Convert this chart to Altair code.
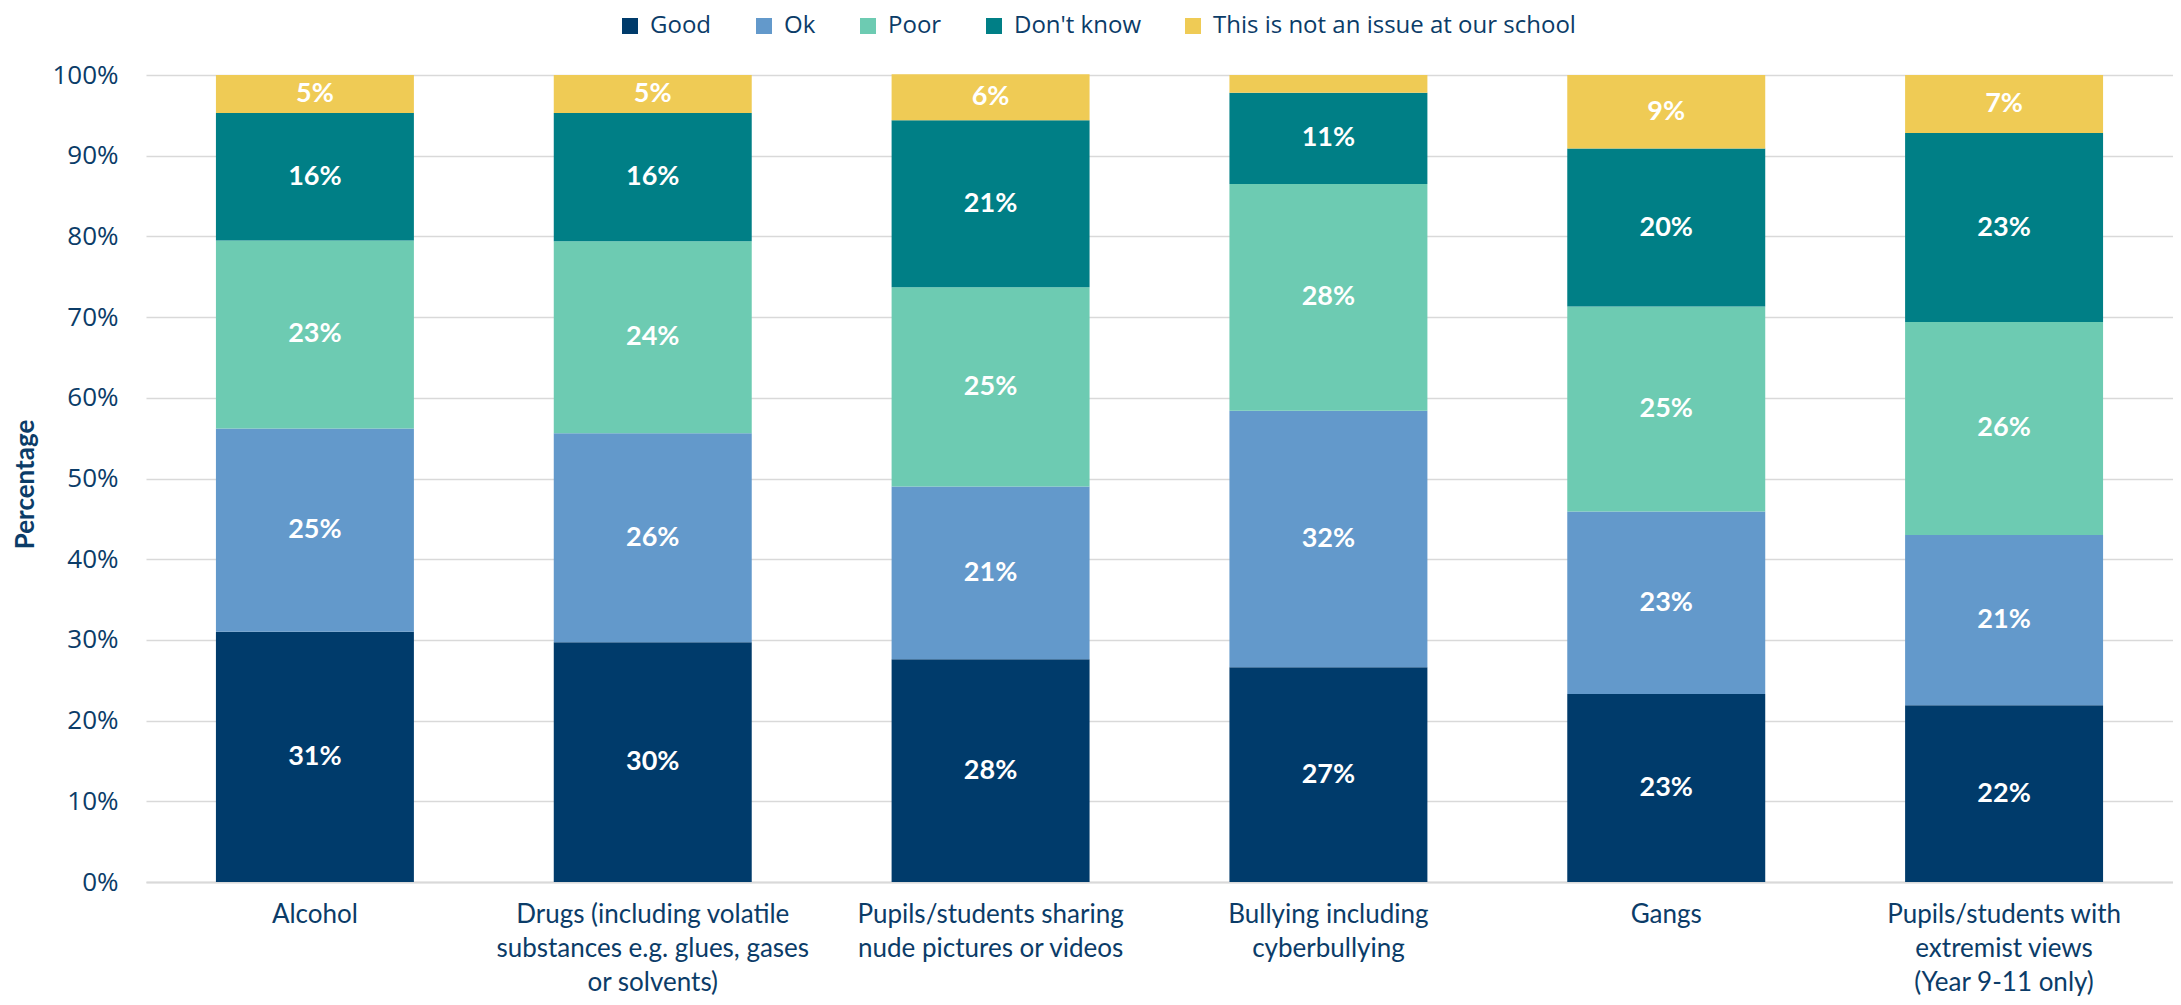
import altair as alt
import pandas as pd

categories = [
    "Alcohol",
    "Drugs (including volatile|substances e.g. glues, gases|or solvents)",
    "Pupils/students sharing|nude pictures or videos",
    "Bullying including|cyberbullying",
    "Gangs",
    "Pupils/students with|extremist views|(Year 9-11 only)",
]
series = ["Good", "Ok", "Poor", "Don't know", "This is not an issue at our school"]
colors = ["#003B6B", "#6399CB", "#6DCBB2", "#007F86", "#EFCB55"]

good = [31.0, 29.7, 27.6, 26.6, 23.3, 21.9]
ok = [25.2, 25.9, 21.4, 31.8, 22.6, 21.1]
poor = [23.3, 23.8, 24.7, 28.1, 25.4, 26.4]
dont_know = [15.8, 15.9, 20.7, 11.3, 19.6, 23.4]
not_issue = [4.7, 4.7, 5.7, 2.2, 9.1, 7.2]

values_by_series = [good, ok, poor, dont_know, not_issue]

rows = []
for si, (s, vals) in enumerate(zip(series, values_by_series)):
    for ci, c in enumerate(categories):
        rows.append({"category": c, "series": s, "order": si, "value": vals[ci]})
df = pd.DataFrame(rows)

TEXT = "#0B3C68"
GRID = "#D9D9D9"

base = alt.Chart(df).transform_stack(
    stack="value", groupby=["category"], sort=[alt.SortField("order")], as_=["y0", "y1"]
).transform_calculate(
    mid="(datum.y0 + datum.y1) / 2",
    label="format(datum.value, '.0f') + '%'",
)

x_enc = alt.X(
    "category:N",
    sort=categories,
    title=None,
    scale=alt.Scale(paddingInner=0.414, paddingOuter=0.207),
    axis=alt.Axis(
        labelAngle=0,
        labelExpr="split(datum.label, '|')",
        labelFont="Lato",
        labelFontSize=26,
        labelLineHeight=34,
        labelColor=TEXT,
        labelPadding=19,
        labelLimit=500,
        ticks=False,
        domainColor=GRID,
        domainWidth=2,
        grid=False,
    ),
)

bars = base.mark_bar().encode(
    x=x_enc,
    y=alt.Y(
        "y0:Q",
        scale=alt.Scale(domain=[0, 100], nice=False),
        title="Percentage",
        axis=alt.Axis(
            values=list(range(0, 101, 10)),
            labelExpr="datum.value + '%'",
            labelFont="Open Sans",
            labelFontSize=26,
            labelColor=TEXT,
            labelPadding=28,
            ticks=False,
            domain=False,
            gridColor=GRID,
            gridWidth=1.5,
            titleFont="Lato",
            titleFontSize=26,
            titleFontWeight="bold",
            titleColor=TEXT,
            titleX=-121,
            titleY=409,
            titleAngle=-90,
            titleAlign="center",
            titleBaseline="middle",
        ),
    ),
    y2="y1:Q",
    color=alt.Color(
        "series:N",
        scale=alt.Scale(domain=series, range=colors),
        legend=alt.Legend(
            title=None,
            orient="none",
            legendX=472,
            legendY=-61,
            direction="horizontal",
            symbolType="square",
            symbolSize=256,
            symbolStrokeWidth=0,
            labelFont="Open Sans",
            labelFontSize=24,
            labelColor=TEXT,
            labelOffset=8,
            labelLimit=1000,
            columnPadding=40,
        ),
    ),
    order=alt.Order("order:Q"),
)

labels = base.transform_filter("datum.value >= 3").mark_text(
    color="white", font="Lato", fontWeight="bold", fontSize=27, baseline="middle", align="center"
).encode(
    x=alt.X("category:N", sort=categories),
    y=alt.Y("mid:Q"),
    text="label:N",
)

chart = (bars + labels).properties(
    width=2027,
    height=807,
    autosize=alt.AutoSizeParams(type="none"),
    padding={"left": 138, "top": 67, "right": 0, "bottom": 115},
).configure_view(stroke=None).configure_axis(labelFontWeight="normal")

chart.save("out.html", embed_options={"renderer": "svg", "actions": False})
